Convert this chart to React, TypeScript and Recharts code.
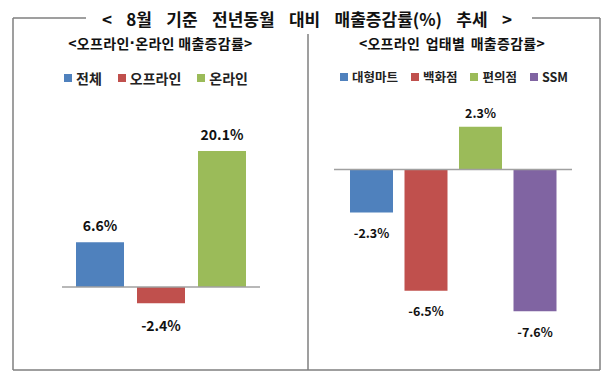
import React from 'react';
import { BarChart, Bar, XAxis, YAxis, ReferenceLine, LabelList, Legend } from 'recharts';

const mainTitle = '< 8월 기준 전년동월 대비 매출증감률(%) 추세 >';
const leftTitleA = '<오프라인';
const leftTitleDot = '·';
const leftTitleB = '온라인 매출증감률>';
const rightTitle = '<오프라인 업태별 매출증감률>';

const leftSeries = ['전체', '오프라인', '온라인'];
const leftValues = [6.6, -2.4, 20.1];
const leftColors = ['#4F81BD', '#C0504D', '#9BBB59'];

const rightSeries = ['대형마트', '백화점', '편의점', 'SSM'];
const rightValues = [-2.3, -6.5, 2.3, -7.6];
const rightColors = ['#4F81BD', '#C0504D', '#9BBB59', '#8064A2'];

const FONT = "'Noto Sans CJK KR', 'Noto Sans', sans-serif";

const buildRow = (names: string[], values: number[]) => {
  const row: Record<string, any> = { name: '' };
  names.forEach((n, i) => {
    row[n] = values[i];
  });
  return [row];
};

const leftData = buildRow(leftSeries, leftValues);
const rightData = buildRow(rightSeries, rightValues);

const makeLabel = (fontSize: number, above: number, below: number) => (props: any) => {
  const { x, y, width, height, value } = props;
  const top = Math.min(y, y + height);
  const bottom = Math.max(y, y + height);
  const cy = value >= 0 ? top - above : bottom + below;
  return (
    <text
      x={x + width / 2}
      y={cy}
      textAnchor="middle"
      dominantBaseline="central"
      fontSize={fontSize}
      fontWeight="bold"
      fill="#111"
      fontFamily={FONT}
    >
      {`${value}%`}
    </text>
  );
};

const makeLegend = (names: string[], colors: string[], fontSize: number, gap: number, shift: number) => () => (
  <div
    style={{
      display: 'flex',
      justifyContent: 'center',
      alignItems: 'center',
      fontFamily: FONT,
      fontWeight: 'bold',
      fontSize,
      color: '#222',
      transform: `translateX(${shift}px)`,
    }}
  >
    {names.map((n, i) => (
      <div key={n} style={{ display: 'flex', alignItems: 'center', marginRight: i < names.length - 1 ? gap : 0 }}>
        <span style={{ width: 8, height: 8, background: colors[i], display: 'inline-block', marginRight: 4 }} />
        <span>{n}</span>
      </div>
    ))}
  </div>
);

export default function App() {
  const frame = '#7F7F7F';
  return (
    <div style={{ position: 'absolute', left: 0, top: 0, width: 612, height: 381, background: '#fff', overflow: 'hidden' }}>
      <svg width={612} height={381} style={{ position: 'absolute', left: 0, top: 0 }}>
        <line x1={13} y1={18} x2={86} y2={18} stroke={frame} strokeWidth={1.5} />
        <line x1={532} y1={18} x2={600} y2={18} stroke={frame} strokeWidth={1.5} />
        <line x1={13} y1={18} x2={13} y2={370} stroke={frame} strokeWidth={1.5} />
        <line x1={600} y1={18} x2={600} y2={370} stroke={frame} strokeWidth={1.5} />
        <line x1={13} y1={370} x2={600} y2={370} stroke={frame} strokeWidth={1.5} />
        <line x1={308} y1={34} x2={308} y2={370} stroke={frame} strokeWidth={1.5} />
        <text x={307} y={18} textAnchor="middle" dominantBaseline="central" fontFamily={FONT} fontWeight="bold" fontSize={17} fill="#111" wordSpacing={10.5}>
          {mainTitle}
        </text>
        <text x={160.5} y={43} textAnchor="middle" dominantBaseline="central" fontFamily={FONT} fontWeight="bold" fontSize={14} fill="#111" letterSpacing={0.3}>
          {leftTitleA}
          <tspan fontFamily="'DejaVu Sans', sans-serif">{leftTitleDot}</tspan>
          {leftTitleB}
        </text>
        <text x={452} y={43} textAnchor="middle" dominantBaseline="central" fontFamily={FONT} fontWeight="bold" fontSize={14} fill="#111" letterSpacing={0.3} wordSpacing={2}>
          {rightTitle}
        </text>
      </svg>

      <div style={{ position: 'absolute', left: 0, top: 0 }}>
        <BarChart
          width={306}
          height={381}
          data={leftData}
          margin={{ top: 118, right: 46, bottom: 40, left: 62 }}
          barSize={48}
          barGap={13}
        >
          <XAxis dataKey="name" hide />
          <YAxis hide domain={[-8, 25]} allowDataOverflow />
          <Legend
            layout="horizontal"
            verticalAlign="middle"
            align="center"
            wrapperStyle={{ top: 68, left: 0, width: 306 }}
            content={makeLegend(leftSeries, leftColors, 14, 16, 3)}
          />
          {leftSeries.map((s, i) => (
            <Bar key={s} dataKey={s} fill={leftColors[i]} isAnimationActive={false}>
              <LabelList dataKey={s} content={makeLabel(14, 17, 22)} />
            </Bar>
          ))}
          <ReferenceLine y={0} stroke="#A0A0A0" strokeWidth={1.5} />
        </BarChart>
      </div>

      <div style={{ position: 'absolute', left: 306, top: 0 }}>
        <BarChart
          width={306}
          height={381}
          data={rightData}
          margin={{ top: 95, right: 40, bottom: 25, left: 28 }}
          barSize={43}
          barGap={11.5}
        >
          <XAxis dataKey="name" hide />
          <YAxis hide domain={[-10, 4]} allowDataOverflow />
          <Legend
            layout="horizontal"
            verticalAlign="middle"
            align="center"
            wrapperStyle={{ top: 67, left: 0, width: 306 }}
            content={makeLegend(rightSeries, rightColors, 12.5, 13, -5)}
          />
          {rightSeries.map((s, i) => (
            <Bar key={s} dataKey={s} fill={rightColors[i]} isAnimationActive={false}>
              <LabelList dataKey={s} content={makeLabel(12.5, 14, 20)} />
            </Bar>
          ))}
          <ReferenceLine y={0} stroke="#A0A0A0" strokeWidth={1.5} />
        </BarChart>
      </div>
    </div>
  );
}
